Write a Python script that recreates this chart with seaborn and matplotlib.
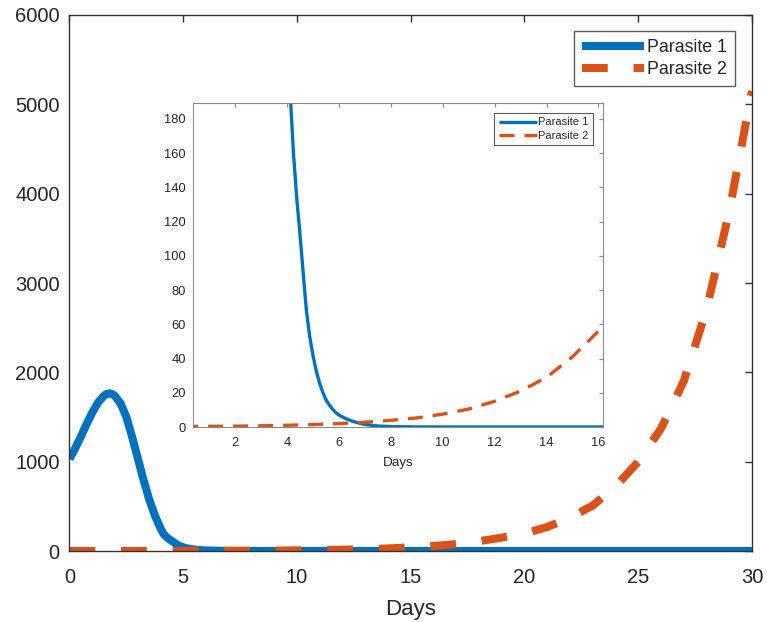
import numpy as np
import pandas as pd
import matplotlib
matplotlib.use("Agg")
import matplotlib.pyplot as plt
import seaborn as sns

# ---- data ----
days_p1 = [0, 0.25, 0.5, 0.75, 1.0, 1.25, 1.5, 1.625, 1.75, 1.875, 2.0, 2.25,
           2.5, 2.75, 3.0, 3.25, 3.5, 3.75, 4.0, 4.125, 4.25, 4.375, 4.5,
           4.625, 4.75, 4.875, 5.0, 5.125, 5.25, 5.375, 5.5, 5.625, 5.75,
           5.875, 6.0, 6.25, 6.5, 6.75, 7.0, 7.5, 8.0, 9.0, 10.0, 12.0, 15.0,
           20.0, 25.0, 30.0]
parasite1 = [1030, 1150, 1280, 1420, 1550, 1660, 1735, 1758, 1765, 1758, 1735,
             1650, 1500, 1280, 1040, 800, 580, 400, 255, 195, 160, 134, 113,
             90, 68, 53, 42, 33, 26, 20.5, 16, 13, 10.5, 8.5, 7, 5, 3.5, 2.4,
             1.5, 0.6, 0.25, 0.05, 0.01, 0, 0, 0, 0, 0]

days_p2 = list(range(0, 31))
parasite2 = [0.3, 0.4, 0.5, 0.7, 1.0, 1.4, 2.0, 2.8, 3.9, 5.3, 7.5, 10.5, 15,
             21, 29, 41, 56, 78, 110, 150, 195, 270, 370, 510, 720, 1000, 1370,
             1900, 2700, 3800, 5150]

series_names = ["Parasite 1", "Parasite 2"]
main_xticks = [0, 5, 10, 15, 20, 25, 30]
main_yticks = [0, 1000, 2000, 3000, 4000, 5000, 6000]
inset_xticks = [2, 4, 6, 8, 10, 12, 14, 16]
inset_yticks = [0, 20, 40, 60, 80, 100, 120, 140, 160, 180]

df = pd.concat([
    pd.DataFrame({"Days": days_p1, "value": parasite1, "series": series_names[0]}),
    pd.DataFrame({"Days": days_p2, "value": parasite2, "series": series_names[1]}),
], ignore_index=True)

blue = "#0072BD"
orange = "#D95319"
txt = "#262626"

sns.set_theme(style="white")
plt.rcParams["font.family"] = ["Liberation Sans", "DejaVu Sans"]

fig = plt.figure(figsize=(7.67, 6.22), dpi=100)

def style_axes(ax, spine_col, lw):
    for s in ax.spines.values():
        s.set_visible(True)
        s.set_color(spine_col)
        s.set_linewidth(lw)
    ax.tick_params(direction="in", top=True, right=True, colors=spine_col,
                   labelcolor=txt, width=lw)

# ---- main axes ----
ax = fig.add_axes([0.0906, 0.1141, 0.8898, 0.8618])
sns.lineplot(data=df, x="Days", y="value", hue="series",
             palette=[blue, orange], ax=ax, legend=False, sort=False,
             estimator=None)
l1, l2 = ax.get_lines()[:2]
for l in (l1, l2):
    l.set_linewidth(5.8)
    l.set_solid_capstyle("butt")
    l.set_solid_joinstyle("round")
l2.set_dashes((3.2, 3.2))
l2.set_dash_capstyle("butt")
l1.set_label(series_names[0])
l2.set_label(series_names[1])
ax.set_xlim(0, 30)
ax.set_ylim(0, 6000)
ax.set_xticks(main_xticks)
ax.set_yticks(main_yticks)
ax.set_xlabel("Days", fontsize=16, color=txt, labelpad=9)
ax.set_ylabel("")
style_axes(ax, "#333333", 1.0)
ax.tick_params(labelsize=14.5, length=5)
ax.tick_params(axis="x", pad=12)
ax.tick_params(axis="y", pad=7)
leg = ax.legend(handles=[l1, l2], loc="upper right", fontsize=12.8,
                handlelength=3.5, frameon=True, fancybox=False,
                bbox_to_anchor=(0.975, 0.97), borderaxespad=0,
                borderpad=0.45, labelspacing=0.3, handletextpad=0.15)
leg.get_frame().set_edgecolor("#333333")
leg.get_frame().set_linewidth(1.0)
for t in leg.get_texts():
    t.set_color(txt)

# ---- inset axes ----
axi = fig.add_axes([0.2516, 0.3135, 0.5344, 0.5209])
sns.lineplot(data=df, x="Days", y="value", hue="series",
             palette=[blue, orange], ax=axi, legend=False, sort=False,
             estimator=None)
i1, i2 = axi.get_lines()[:2]
for l in (i1, i2):
    l.set_linewidth(2.4)
    l.set_solid_capstyle("butt")
    l.set_solid_joinstyle("round")
i2.set_dashes((4.5, 3.0))
i2.set_dash_capstyle("butt")
i1.set_label(series_names[0])
i2.set_label(series_names[1])
axi.set_xlim(0.38, 16.17)
axi.set_ylim(0, 189.2)
axi.set_xticks(inset_xticks)
axi.set_yticks(inset_yticks)
axi.set_xlabel("Days", fontsize=9.7, color=txt, labelpad=6)
axi.set_ylabel("")
style_axes(axi, "#8c8c8c", 0.8)
axi.tick_params(labelsize=9.3, length=3)
axi.tick_params(axis="x", pad=7)
axi.tick_params(axis="y", pad=5)
legi = axi.legend(handles=[i1, i2], loc="upper right", fontsize=8,
                  handlelength=3.4, frameon=True, fancybox=False,
                  bbox_to_anchor=(0.976, 0.969), borderaxespad=0,
                  borderpad=0.4, labelspacing=0.3, handletextpad=0.15)
legi.get_frame().set_edgecolor("#333333")
legi.get_frame().set_linewidth(0.8)
for t in legi.get_texts():
    t.set_color(txt)

fig.savefig("out.png", dpi=100, facecolor="white")
